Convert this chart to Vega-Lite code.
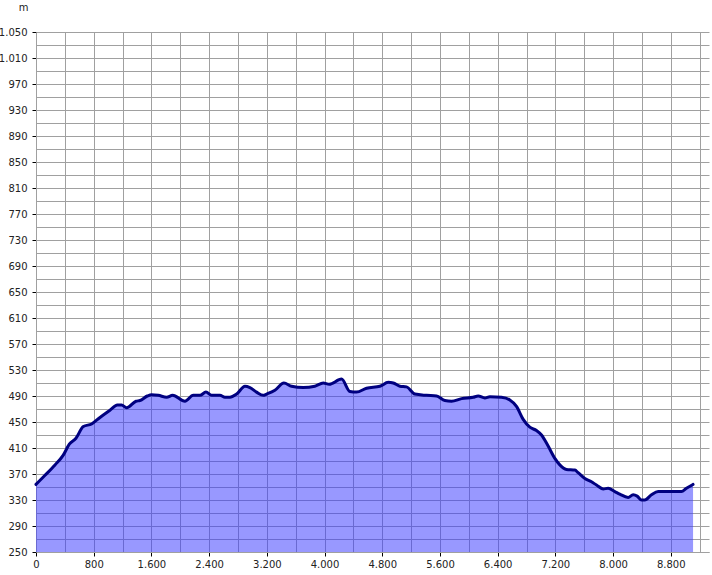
{
  "$schema": "https://vega.github.io/schema/vega-lite/v6.json",
  "width": 673,
  "height": 520,
  "autosize": "none",
  "padding": {"left": 36, "top": 32, "right": 3, "bottom": 23},
  "background": "white",
  "config": {
    "view": {"stroke": null},
    "axis": {"labelFont": "DejaVu Sans", "labelFontSize": 10, "labelColor": "#222222", "titleFont": "DejaVu Sans", "titleFontSize": 10, "titleFontWeight": "normal", "titleColor": "#222222"}
  },
  "data": {"values": [
    {"d": 0, "elev": 354}, {"d": 125, "elev": 368}, {"d": 263, "elev": 384}, {"d": 378, "elev": 399},
    {"d": 462, "elev": 416}, {"d": 554, "elev": 425}, {"d": 656, "elev": 443}, {"d": 771, "elev": 447},
    {"d": 887, "elev": 457}, {"d": 1025, "elev": 468}, {"d": 1127, "elev": 476}, {"d": 1187, "elev": 476},
    {"d": 1256, "elev": 472}, {"d": 1386, "elev": 482}, {"d": 1441, "elev": 483}, {"d": 1543, "elev": 490},
    {"d": 1603, "elev": 492}, {"d": 1695, "elev": 491}, {"d": 1811, "elev": 488}, {"d": 1894, "elev": 491},
    {"d": 2065, "elev": 482}, {"d": 2180, "elev": 491}, {"d": 2273, "elev": 491}, {"d": 2356, "elev": 496},
    {"d": 2434, "elev": 491}, {"d": 2550, "elev": 491}, {"d": 2619, "elev": 488}, {"d": 2689, "elev": 488},
    {"d": 2781, "elev": 493}, {"d": 2897, "elev": 505}, {"d": 2966, "elev": 503}, {"d": 3058, "elev": 496},
    {"d": 3150, "elev": 491}, {"d": 3197, "elev": 493}, {"d": 3312, "elev": 499}, {"d": 3437, "elev": 510},
    {"d": 3543, "elev": 505}, {"d": 3705, "elev": 503}, {"d": 3866, "elev": 505}, {"d": 3982, "elev": 510},
    {"d": 4065, "elev": 508}, {"d": 4236, "elev": 516}, {"d": 4352, "elev": 497}, {"d": 4444, "elev": 496},
    {"d": 4583, "elev": 502}, {"d": 4768, "elev": 505}, {"d": 4883, "elev": 511}, {"d": 4953, "elev": 510},
    {"d": 5045, "elev": 505}, {"d": 5137, "elev": 504}, {"d": 5252, "elev": 493}, {"d": 5414, "elev": 491},
    {"d": 5553, "elev": 490}, {"d": 5668, "elev": 483}, {"d": 5761, "elev": 482}, {"d": 5900, "elev": 486},
    {"d": 6060, "elev": 488}, {"d": 6130, "elev": 490}, {"d": 6222, "elev": 487}, {"d": 6292, "elev": 489},
    {"d": 6453, "elev": 488}, {"d": 6569, "elev": 484}, {"d": 6661, "elev": 474}, {"d": 6754, "elev": 454},
    {"d": 6846, "elev": 442}, {"d": 6938, "elev": 437}, {"d": 7008, "elev": 430}, {"d": 7100, "elev": 413},
    {"d": 7193, "elev": 394}, {"d": 7262, "elev": 384}, {"d": 7354, "elev": 377}, {"d": 7470, "elev": 376},
    {"d": 7516, "elev": 372}, {"d": 7609, "elev": 363}, {"d": 7701, "elev": 358}, {"d": 7770, "elev": 353},
    {"d": 7863, "elev": 347}, {"d": 7932, "elev": 348}, {"d": 8024, "elev": 343}, {"d": 8093, "elev": 339},
    {"d": 8209, "elev": 334}, {"d": 8278, "elev": 338}, {"d": 8334, "elev": 336}, {"d": 8395, "elev": 330},
    {"d": 8440, "elev": 330}, {"d": 8532, "elev": 338}, {"d": 8625, "elev": 343}, {"d": 8717, "elev": 343},
    {"d": 8948, "elev": 343}, {"d": 9017, "elev": 348}, {"d": 9109, "elev": 354}
  ]},
  "encoding": {
    "x": {
      "field": "d", "type": "quantitative",
      "scale": {"domain": [0, 9330], "nice": false, "zero": false},
      "axis": {
        "title": null,
        "values": [0, 400, 800, 1200, 1600, 2000, 2400, 2800, 3200, 3600, 4000, 4400, 4800, 5200, 5600, 6000, 6400, 6800, 7200, 7600, 8000, 8400, 8800, 9200],
        "labelExpr": "datum.value % 800 === 0 ? replace(format(datum.value, ','), ',', '.') : ''",
        "labelFlush": false,
        "labelOverlap": false,
        "grid": true,
        "gridColor": "#a0a0a0",
        "gridOpacity": 1,
        "gridWidth": 1,
        "domainColor": "#a0a0a0",
        "tickColor": "#000000",
        "tickSize": 4,
        "tickOpacity": {"condition": {"test": "datum.value % 800 === 0", "value": 1}, "value": 0},
        "labelPadding": 3
      }
    },
    "y": {
      "field": "elev", "type": "quantitative",
      "scale": {"domain": [250, 1050], "nice": false, "zero": false},
      "axis": {
        "title": "m",
        "titleAngle": 0,
        "titleX": -13,
        "titleY": -25,
        "titleAlign": "center",
        "titleBaseline": "middle",
        "values": [250, 270, 290, 310, 330, 350, 370, 390, 410, 430, 450, 470, 490, 510, 530, 550, 570, 590, 610, 630, 650, 670, 690, 710, 730, 750, 770, 790, 810, 830, 850, 870, 890, 910, 930, 950, 970, 990, 1010, 1030, 1050],
        "labelExpr": "datum.value % 40 === 10 ? replace(format(datum.value, ','), ',', '.') : ''",
        "labelFlush": false,
        "labelOverlap": false,
        "grid": true,
        "gridColor": "#a0a0a0",
        "gridOpacity": 1,
        "gridWidth": 1,
        "domainColor": "#a0a0a0",
        "tickColor": "#000000",
        "tickSize": 4,
        "tickOpacity": {"condition": {"test": "datum.value % 40 === 10", "value": 1}, "value": 0},
        "labelPadding": 5
      }
    }
  },
  "layer": [
    {"mark": {"type": "area", "color": "#3939ff", "fillOpacity": 0.52, "interpolate": "monotone", "clip": true}},
    {"mark": {"type": "line", "color": "#000080", "strokeWidth": 3, "interpolate": "monotone", "strokeJoin": "round", "strokeCap": "round"}}
  ]
}
